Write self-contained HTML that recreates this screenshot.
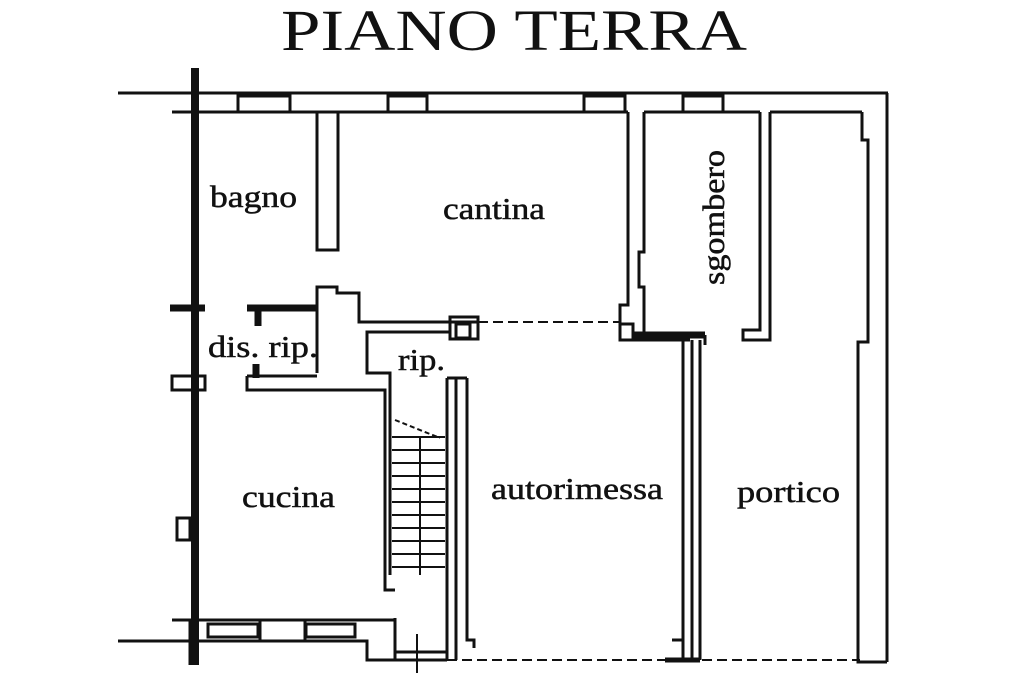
<!DOCTYPE html>
<html><head><meta charset="utf-8"><style>
html,body{margin:0;padding:0;background:#fff;width:1024px;height:683px;overflow:hidden}
svg{display:block}
text{font-family:"Liberation Serif",serif;fill:#111}
</style></head><body>
<svg width="1024" height="683" viewBox="0 0 1024 683" xmlns="http://www.w3.org/2000/svg">
<text x="514" y="50" font-size="58" text-anchor="middle" textLength="466" lengthAdjust="spacingAndGlyphs">PIANO TERRA</text>
<g stroke="#111" fill="none" stroke-width="3">
<line x1="118" y1="93" x2="888" y2="93"/>
<line x1="172" y1="112" x2="628" y2="112"/>
<line x1="644" y1="112" x2="760" y2="112"/>
<line x1="770" y1="112" x2="862" y2="112"/>
<rect x="238" y="96" width="52" height="16"/>
<rect x="388" y="96" width="39" height="16"/>
<rect x="584" y="96" width="41" height="16"/>
<rect x="683" y="96" width="40" height="16"/>
<line x1="195" y1="68" x2="195" y2="665" stroke-width="8"/>
<line x1="170" y1="308" x2="205" y2="308" stroke-width="7"/>
<rect x="172" y="376" width="33" height="14"/>
<rect x="177" y="518" width="13" height="22"/>
<polyline points="317,112 317,250 338,250 338,112"/>
<line x1="247" y1="308" x2="318" y2="308" stroke-width="7"/>
<line x1="258" y1="308" x2="258" y2="326" stroke-width="7"/>
<line x1="256" y1="364" x2="256" y2="378" stroke-width="7"/>
<polyline points="317,373 317,287 337,287 337,293 359,293 359,322 478,322"/>
<polyline points="247,376 317,376"/>
<polyline points="247,376 247,390 385,390 385,590 395,590"/>
<polyline points="450,332 367,332 367,373 390,373 390,575"/>
<rect x="450" y="317" width="28" height="22"/>
<rect x="456" y="324" width="14" height="14"/>
<g stroke-width="2">
<line x1="392" y1="437" x2="445" y2="437"/>
<line x1="392" y1="450" x2="445" y2="450"/>
<line x1="392" y1="463" x2="445" y2="463"/>
<line x1="392" y1="476" x2="445" y2="476"/>
<line x1="392" y1="489" x2="445" y2="489"/>
<line x1="392" y1="502" x2="445" y2="502"/>
<line x1="392" y1="515" x2="445" y2="515"/>
<line x1="392" y1="528" x2="445" y2="528"/>
<line x1="392" y1="541" x2="445" y2="541"/>
<line x1="392" y1="554" x2="445" y2="554"/>
<line x1="392" y1="567" x2="445" y2="567"/>
<line x1="420" y1="437" x2="420" y2="575"/>
<line x1="395" y1="420" x2="440" y2="438" stroke-dasharray="5,3"/>
</g>
<line x1="447" y1="378" x2="447" y2="660"/>
<line x1="456" y1="378" x2="456" y2="660"/>
<polyline points="467,378 467,640 474,640 474,648"/>
<line x1="447" y1="378" x2="467" y2="378"/>
<line x1="172" y1="620" x2="395" y2="620"/>
<line x1="118" y1="641" x2="360" y2="641"/>
<rect x="208" y="624" width="50" height="13"/>
<rect x="260" y="620" width="45" height="21"/>
<rect x="306" y="624" width="49" height="13"/>
<polyline points="357,641 367,641 367,660 395,660 395,618"/>
<polyline points="395,652 447,652"/>
<line x1="395" y1="660" x2="447" y2="660"/>
<line x1="417" y1="634" x2="417" y2="673" stroke-width="2"/>
<line x1="190" y1="620" x2="190" y2="665"/>
<line x1="447" y1="660" x2="860" y2="660" stroke-dasharray="10,5" stroke-width="2"/>
<line x1="478" y1="322" x2="620" y2="322" stroke-dasharray="10,5" stroke-width="2"/>
<polyline points="628,112 628,305 620,305 620,340 690,340"/>
<rect x="620" y="324" width="13" height="16"/>
<polyline points="644,112 644,252 639,252 639,287 644,287 644,332"/>
<line x1="632" y1="335" x2="705" y2="335" stroke-width="7"/>
<polyline points="760,112 760,330 743,330 743,340 770,340 770,112"/>
<line x1="683" y1="340" x2="683" y2="660"/>
<line x1="692" y1="340" x2="692" y2="660"/>
<line x1="700" y1="340" x2="700" y2="660"/>
<line x1="705" y1="335" x2="705" y2="345"/>
<polyline points="683,640 672,640"/>
<line x1="665" y1="660" x2="700" y2="660" stroke-width="5"/>
<line x1="887" y1="93" x2="887" y2="662"/>
<polyline points="862,112 862,140 868,140 868,342 858,342 858,662 887,662"/>
</g>
<g font-size="31" stroke="#111" stroke-width="0.5" lengthAdjust="spacingAndGlyphs">
<text x="210" y="207" textLength="87" lengthAdjust="spacingAndGlyphs">bagno</text>
<text x="443" y="219" textLength="102" lengthAdjust="spacingAndGlyphs">cantina</text>
<text x="208" y="357" textLength="110" lengthAdjust="spacingAndGlyphs">dis. rip.</text>
<text x="398" y="370" textLength="47" lengthAdjust="spacingAndGlyphs">rip.</text>
<text x="242" y="507" textLength="93" lengthAdjust="spacingAndGlyphs">cucina</text>
<text x="491" y="499" textLength="172" lengthAdjust="spacingAndGlyphs">autorimessa</text>
<text x="737" y="502" textLength="103" lengthAdjust="spacingAndGlyphs">portico</text>
<text transform="translate(724,285) rotate(-90)" textLength="135" lengthAdjust="spacingAndGlyphs">sgombero</text>
</g>
</svg>
</body></html>
